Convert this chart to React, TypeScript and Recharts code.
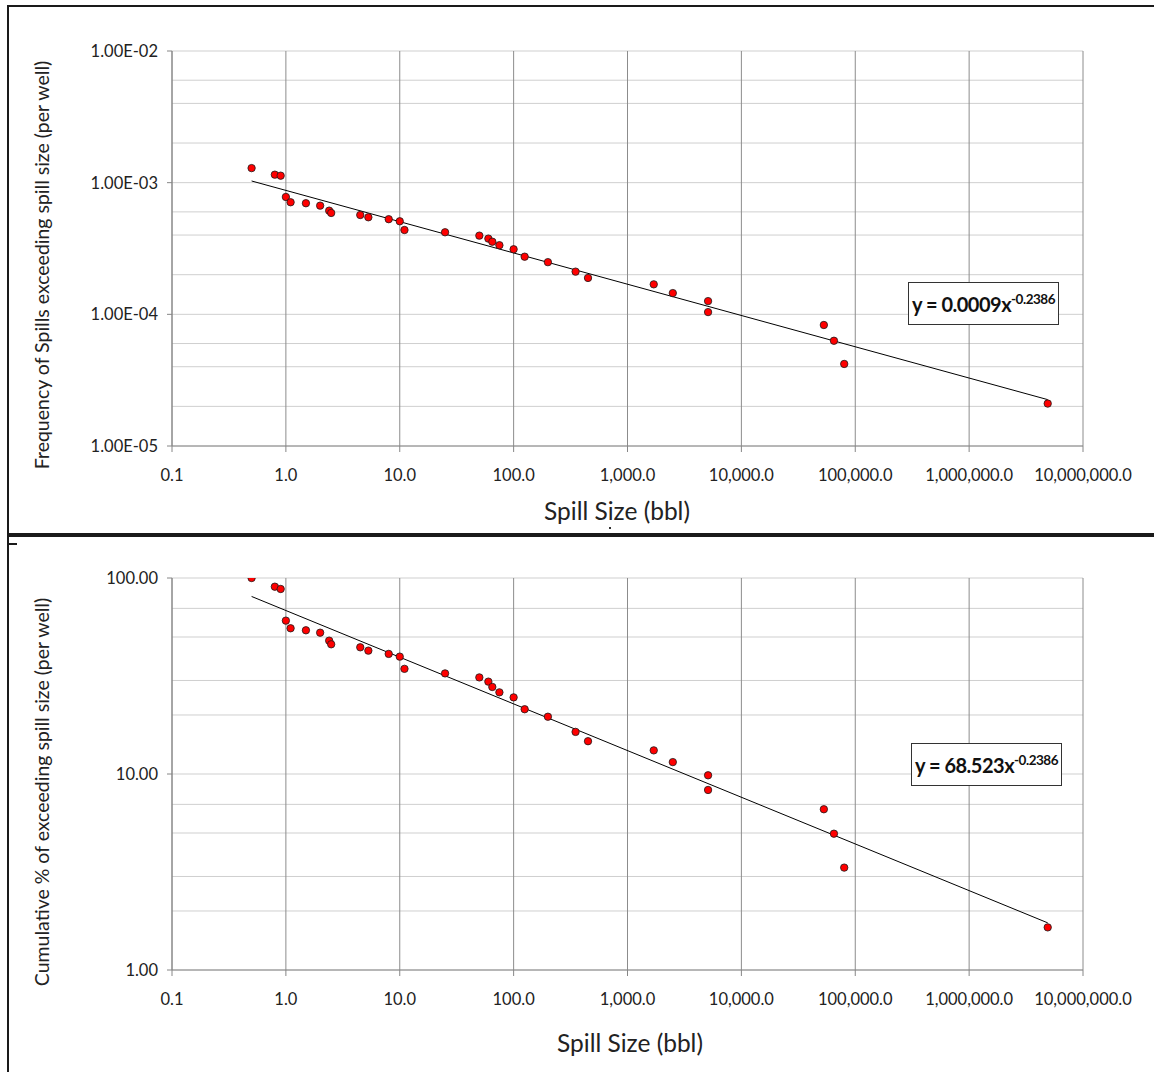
import React from 'react';
import { ScatterChart, Scatter, XAxis, YAxis, CartesianGrid } from 'recharts';

// spill sizes (bbl), shared by both panels
const spillSizes = [
  0.5, 0.8, 0.9, 1.0, 1.1, 1.5, 2.0, 2.4, 2.5, 4.5, 5.3, 8, 10, 11, 25, 50,
  60, 65, 75, 100, 125, 200, 350, 450, 1700, 2500, 5100, 5100, 53000, 65000, 80000, 4900000,
];

// frequency of spills exceeding spill size (per well)
const frequency = [
  1.29e-3, 1.15e-3, 1.13e-3, 7.79e-4, 7.1e-4, 6.98e-4, 6.69e-4, 6.13e-4, 5.89e-4, 5.68e-4, 5.46e-4,
  5.28e-4, 5.09e-4, 4.37e-4, 4.2e-4, 3.96e-4, 3.76e-4, 3.56e-4, 3.35e-4, 3.12e-4, 2.74e-4, 2.49e-4,
  2.11e-4, 1.89e-4, 1.69e-4, 1.45e-4, 1.26e-4, 1.04e-4, 8.3e-5, 6.3e-5, 4.2e-5, 2.1e-5,
];

// cumulative % exceeding spill size
const cumulativePct = [
  100, 90.3, 87.9, 60.6, 55.4, 54.1, 52.6, 47.9, 45.9, 44.3, 42.6, 41.0, 39.7, 34.4, 32.6, 31.1,
  29.6, 27.8, 26.1, 24.6, 21.4, 19.6, 16.4, 14.7, 13.2, 11.5, 9.85, 8.29, 6.61, 4.96, 3.33, 1.65,
];

// power trendline end points
const trendX = [0.5, 4900000];
const trendFreq = [1.03e-3, 2.25e-5];
const trendPct = [80.5, 1.74];

const xTicks = [0.1, 1, 10, 100, 1000, 10000, 100000, 1000000, 10000000];
const freqTicks = [1e-5, 1e-4, 1e-3, 1e-2];
const pctTicks = [1, 10, 100];
const minorSteps = [1, 2, 3, 4, 5, 6, 7, 8, 9];

const FONT = 'Lato, "Open Sans", sans-serif';

const minorValues = (ticks: number[]) =>
  ticks.slice(0, -1).flatMap((d) => minorSteps.map((m) => m * d)).concat(ticks[ticks.length - 1]);

const fmtX = (v: number) =>
  v.toLocaleString('en-US', { minimumFractionDigits: 1, maximumFractionDigits: 1 });

const fmtSci = (v: number) => {
  const [m, e] = v.toExponential(2).split('e');
  const n = Number(e);
  return `${m}E${n < 0 ? '-' : '+'}${String(Math.abs(n)).padStart(2, '0')}`;
};

const Dot = (p: any) => (
  <circle cx={p.cx} cy={p.cy} r={3.7} fill="#ff0000" stroke="#1a1a1a" strokeWidth={0.8} />
);
const NoDot = () => <g />;

const tickStyle = { fill: '#222', fontSize: 16.5, fontFamily: FONT };

interface PanelProps {
  top: number;
  height: number;
  plotTop: number;
  plotBottom: number;
  yValues: number[];
  trendY: number[];
  yTicks: number[];
  yFormat: (v: number) => string;
}

const Panel: React.FC<PanelProps> = ({ top, height, plotTop, plotBottom, yValues, trendY, yTicks, yFormat }) => {
  const points = spillSizes.map((x, i) => ({ x, y: yValues[i] }));
  const trend = trendX.map((x, i) => ({ x, y: trendY[i] }));
  return (
    <div style={{ position: 'absolute', left: 0, top, width: 1154, height }}>
      <ScatterChart
        width={1154}
        height={height}
        margin={{ top: plotTop, right: 71, left: 0, bottom: height - plotBottom - 30 }}
      >
        <CartesianGrid
          vertical={false}
          horizontalValues={minorValues(yTicks)}
          stroke="#cfcfcf"
          strokeWidth={1}
        />
        <CartesianGrid horizontal={false} verticalValues={xTicks} stroke="#8c8c8c" strokeWidth={1} />
        <XAxis
          dataKey="x"
          type="number"
          scale="log"
          domain={[0.1, 10000000]}
          ticks={xTicks}
          tickFormatter={fmtX}
          allowDataOverflow
          height={30}
          tick={tickStyle}
          tickSize={6}
          tickMargin={17}
          stroke="#868686"
        />
        <YAxis
          dataKey="y"
          type="number"
          scale="log"
          domain={[yTicks[0], yTicks[yTicks.length - 1]]}
          ticks={yTicks}
          tickFormatter={yFormat}
          allowDataOverflow
          width={172}
          tick={tickStyle}
          tickSize={5}
          tickMargin={9}
          stroke="#868686"
        />
        <Scatter data={trend} line={{ stroke: '#000', strokeWidth: 1 }} shape={NoDot} isAnimationActive={false} />
        <Scatter data={points} shape={Dot} isAnimationActive={false} />
      </ScatterChart>
    </div>
  );
};

const YTitle: React.FC<{ text: string; cy: number }> = ({ text, cy }) => (
  <div
    style={{
      position: 'absolute', left: 41, top: cy, transform: 'translate(-50%, -50%) rotate(-90deg)',
      whiteSpace: 'nowrap', fontSize: 19.5, color: '#222', fontFamily: FONT,
    }}
  >
    {text}
  </div>
);

const XTitle: React.FC<{ cx: number; cy: number }> = ({ cx, cy }) => (
  <div
    style={{
      position: 'absolute', left: cx, top: cy, transform: 'translate(-50%, -50%)',
      whiteSpace: 'nowrap', fontSize: 24.5, color: '#222', fontFamily: FONT,
    }}
  >
    Spill Size (bbl)
  </div>
);

const Equation: React.FC<{ left: number; top: number; coef: string }> = ({ left, top, coef }) => (
  <div
    style={{
      position: 'absolute', left, top, width: 151, height: 43, boxSizing: 'border-box',
      border: '1.5px solid #333', background: '#fff', fontFamily: FONT, fontWeight: 700,
      fontSize: 20, color: '#111', display: 'flex', alignItems: 'center', paddingLeft: 3,
      whiteSpace: 'nowrap', letterSpacing: -0.5,
    }}
  >
    <span>
      y = {coef}x<sup style={{ fontSize: 13.5 }}>-0.2386</sup>
    </span>
  </div>
);

export default function App() {
  return (
    <div
      style={{
        position: 'absolute', left: 0, top: 0, width: 1154, height: 1072,
        overflow: 'hidden', background: '#fff', fontFamily: FONT,
      }}
    >
      <div style={{ position: 'absolute', left: 7, top: 5, width: 1160, height: 528, border: '2px solid #1a1a1a' }} />
      <div style={{ position: 'absolute', left: 7, top: 533, width: 1160, height: 600, border: '2px solid #1a1a1a' }} />
      <div style={{ position: 'absolute', left: 9, top: 543, width: 8, height: 2, background: '#1a1a1a' }} />
      <div style={{ position: 'absolute', left: 609, top: 527, width: 2, height: 2, background: '#333' }} />

      <Panel
        top={0}
        height={530}
        plotTop={51}
        plotBottom={446}
        yValues={frequency}
        trendY={trendFreq}
        yTicks={freqTicks}
        yFormat={fmtSci}
      />
      <Panel
        top={534}
        height={538}
        plotTop={44}
        plotBottom={436}
        yValues={cumulativePct}
        trendY={trendPct}
        yTicks={pctTicks}
        yFormat={(v) => v.toFixed(2)}
      />

      <YTitle text="Frequency of Spills exceeding spill size (per well)" cy={265} />
      <XTitle cx={617} cy={510} />
      <YTitle text="Cumulative % of exceeding spill size (per well)" cy={792} />
      <XTitle cx={630} cy={1042} />

      <Equation left={908} top={282} coef="0.0009" />
      <Equation left={911} top={743} coef="68.523" />
    </div>
  );
}
